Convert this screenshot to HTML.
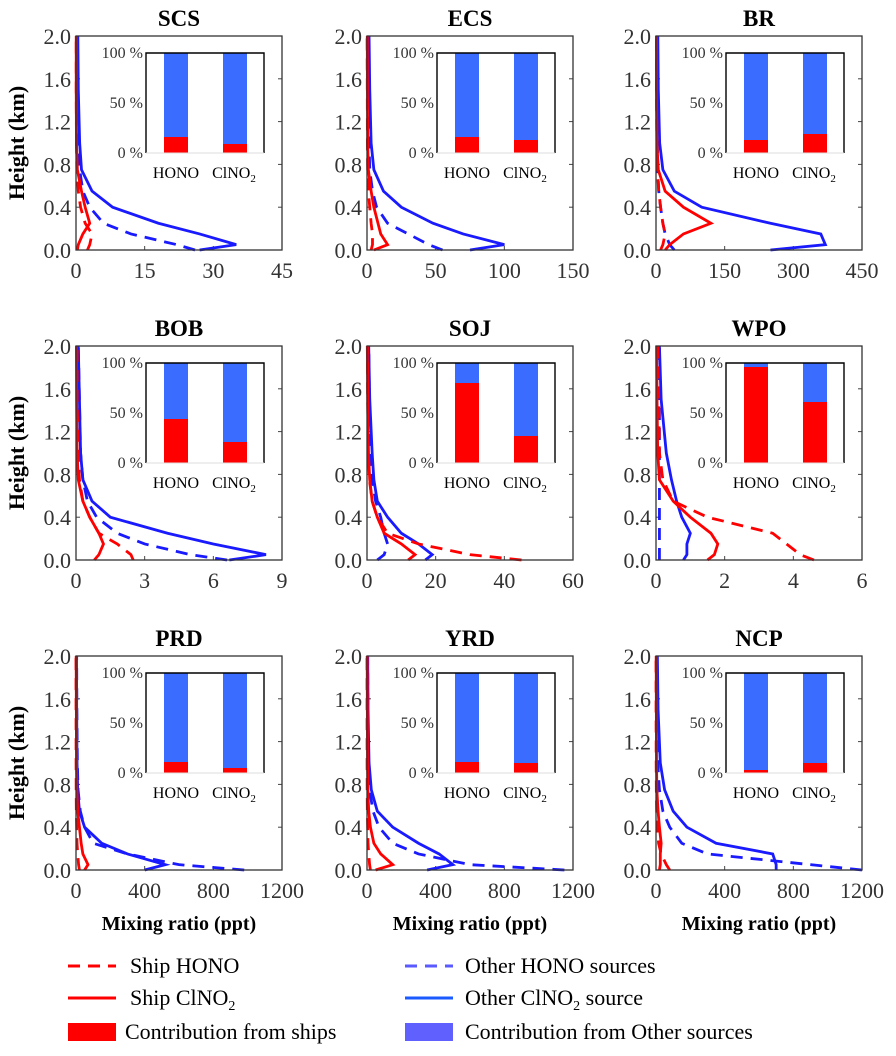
<!DOCTYPE html>
<html><head><meta charset="utf-8">
<style>
html,body{margin:0;padding:0;background:#fff;}
svg, svg text{font-family:"Liberation Serif","Times New Roman","DejaVu Serif",serif;}
svg{display:block;}
</style></head>
<body>
<svg id="fig" width="896" height="1056" viewBox="0 0 896 1056" font-family="Liberation Serif, Times New Roman, DejaVu Serif, serif"></svg>
<script>
const regions = ["SCS","ECS","BR","BOB","SOJ","WPO","PRD","YRD","NCP"];
const xMaxes = [45,150,450,9,60,6,1200,1200,1200];
const xTickLabels = [[0,15,30,45],[0,50,100,150],[0,150,300,450],[0,3,6,9],[0,20,40,60],[0,2,4,6],[0,400,800,1200],[0,400,800,1200],[0,400,800,1200]];
const yTickLabels = ["0.0","0.4","0.8","1.2","1.6","2.0"];
const heights = [0,0.05,0.15,0.25,0.4,0.55,0.75,1.0,1.5,2.0];
const otherClNO2 = [
 [27,35,27,18,8,3.5,1.2,0.8,0.5,0.4],
 [75,100,70,48,25,12,5,3,2,1.5],
 [250,370,360,250,100,40,15,8,5,4],
 [6.7,8.3,6,4,1.5,0.7,0.3,0.2,0.15,0.1],
 [17,19,15,10,6,3,2,1.5,0.8,0.5],
 [0.8,0.9,0.9,1.0,0.75,0.6,0.45,0.3,0.15,0.1],
 [400,520,300,150,50,20,10,6,4,3],
 [350,500,420,300,150,60,25,12,6,4],
 [700,700,680,350,180,100,50,25,12,8]];
const otherHONO = [
 [26,22,12,6,3,1.5,0.8,0.5,0.3,0.3],
 [55,45,30,15,7,4,2,1.5,1,1],
 [40,30,20,15,10,6,4,3,2,2],
 [6.6,5,3,1.8,0.9,0.5,0.3,0.2,0.15,0.1],
 [3,5,6,5,4,2.5,1.5,1,0.7,0.5],
 [0.1,0.1,0.1,0.1,0.1,0.1,0.1,0.1,0.1,0.1],
 [980,600,300,100,50,25,12,8,5,4],
 [1150,600,300,150,70,35,15,8,5,4],
 [1200,900,300,150,80,40,20,10,6,4]];
const shipClNO2 = [
 [0.3,0.5,1.5,3,2,1.2,0.3,0.1,0.05,0.05],
 [5,15,10,8,5,3,1,0.5,0.3,0.2],
 [20,30,60,120,60,20,5,2,1,1],
 [0.8,1,1.2,1.0,0.6,0.3,0.1,0.05,0.03,0.02],
 [12,14,10,5,3,1.5,0.8,0.4,0.2,0.1],
 [1.5,1.7,1.8,1.6,1.0,0.5,0.1,0.05,0.03,0.02],
 [50,70,40,30,20,10,5,3,2,1],
 [50,150,80,40,20,10,5,3,2,1],
 [20,25,25,30,20,12,5,3,2,1]];
const shipHONO = [
 [2.5,3,3.5,2,1,0.5,0.2,0.1,0.05,0.05],
 [3,4,4,3,2,1,0.5,0.3,0.2,0.1],
 [10,15,20,15,10,6,3,2,1,1],
 [2.5,2.4,1.8,1,0.6,0.3,0.15,0.1,0.05,0.05],
 [45,30,15,6,3,1.5,0.7,0.4,0.2,0.1],
 [4.6,4.2,3.8,3.4,1.5,0.5,0.2,0.1,0.08,0.05],
 [20,15,10,6,4,2,1,0.5,0.3,0.2],
 [20,15,10,6,4,2,1,0.5,0.3,0.2],
 [80,60,30,15,8,4,2,1,0.5,0.3]];
const shipPctHONO = [16,16,13,44,80,96,11,11,3];
const shipPctClNO2 = [9,13,19,21,27,61,5,10,10];

const NS="http://www.w3.org/2000/svg";
const svg=document.getElementById('fig');
function mk(tag,attrs,parent){const e=document.createElementNS(NS,tag);for(const k in attrs)e.setAttribute(k,attrs[k]);(parent||svg).appendChild(e);return e;}
const colX=[76,367,656], rowY=[36,346,656], PW=206, PH=214;
const RED="#ff0000", BLUE="#1a1aff", IBLUE="#3a6dff";

regions.forEach((name,i)=>{
  const x0=colX[i%3], y0=rowY[Math.floor(i/3)];
  const g=mk('g',{});
  
  
  const xs=v=>x0+v/xMaxes[i]*PW;
  const ys=h=>y0+PH-h/2*PH;
  const t=mk('text',{x:x0+PW/2,y:y0-10,'text-anchor':'middle','font-size':23,'font-weight':'bold'},g);
  t.textContent=name;
  
  
  yTickLabels.forEach(l=>{
    const yy=ys(parseFloat(l));
    const tt=mk('text',{x:x0-5,y:yy+8,'text-anchor':'end','font-size':22,fill:'#333'},g);
    tt.textContent=l;
    
    
    mk('line',{x1:x0,x2:x0+4,y1:yy,y2:yy,stroke:'#444'},g);
    mk('line',{x1:x0+PW,x2:x0+PW-4,y1:yy,y2:yy,stroke:'#444'},g);
  });
  xTickLabels[i].forEach(v=>{
    const xx=xs(v);
    const tt=mk('text',{x:xx,y:y0+PH+28,'text-anchor':'middle','font-size':22,fill:'#333'},g);
    tt.textContent=v;
    
    
    mk('line',{x1:xx,x2:xx,y1:y0+PH,y2:y0+PH-4,stroke:'#444'},g);
  });
  if(i%3===0){
    const yl=mk('text',{x:0,y:0,transform:`translate(${x0-52},${y0+PH/2}) rotate(-90)`,'text-anchor':'middle','font-size':22,'font-weight':'bold'},g);
    yl.textContent='Height (km)';
    
    
  }
  if(i>=6){
    const xl=mk('text',{x:x0+PW/2,y:y0+PH+60,'text-anchor':'middle','font-size':20,'font-weight':'bold'},g);
    xl.textContent='Mixing ratio (ppt)';
    
    
  }
  const series=[[otherHONO,BLUE,true,'other-hono-line'],[otherClNO2,BLUE,false,'other-clno2-line'],[shipHONO,RED,true,'ship-hono-line'],[shipClNO2,RED,false,'ship-clno2-line']];
  series.forEach(([arr,c,dash,nm])=>{
    const pts=arr[i].map((v,k)=>xs(Math.min(v,xMaxes[i]))+','+ys(heights[k])).join(' ');
    const p=mk('polyline',{points:pts,fill:'none',stroke:c,'stroke-width':2.8,'stroke-dasharray':dash?'12,8':'none'},g);
    
    
  });
  mk('rect',{x:x0,y:y0,width:PW,height:PH,fill:'none',stroke:'#333','stroke-width':1.3},g);
  const ix=x0+70, iy=y0+17, iw=118, ih=100;
  const ig=mk('g',{},g);
  
  
  mk('rect',{x:ix,y:iy,width:iw,height:ih+40,fill:'#fff'},ig);
  const iys=p=>iy+ih-p/100*ih;
  [[shipPctHONO[i],ix+18,'bar-hono'],[shipPctClNO2[i],ix+77,'bar-clno2']].forEach(([p,bx,nm])=>{
    const b1=mk('rect',{x:bx,y:iy,width:24,height:ih,fill:IBLUE},ig);
    
    
    const b2=mk('rect',{x:bx,y:iys(p),width:24,height:p/100*ih,fill:RED},ig);
    
    
  });
  mk('polyline',{points:`${ix},${iy+ih} ${ix},${iy} ${ix+iw},${iy} ${ix+iw},${iy+ih}`,fill:'none',stroke:'#000','stroke-width':1.4},ig);
  mk('line',{x1:ix,x2:ix+iw,y1:iy+ih,y2:iy+ih,stroke:'#ddd'},ig);
  [[0,'0 %'],[50,'50 %'],[100,'100 %']].forEach(([p,l])=>{
    const tt=mk('text',{x:ix-3,y:iys(p)+5,'text-anchor':'end','font-size':16,fill:'#333'},ig);
    tt.textContent=l;
    
    
  });
  const l1=mk('text',{x:ix+30,y:iy+ih+25,'text-anchor':'middle','font-size':16},ig);
  l1.textContent='HONO';
  
  
  const l2=mk('text',{x:ix+88,y:iy+ih+25,'text-anchor':'middle','font-size':16},ig);
  l2.innerHTML='ClNO<tspan font-size="11" dy="4">2</tspan>';
  
  
});

const lg=mk('g',{});


const entries=[
 [68,966,'line',RED,true,'Ship HONO',130,'legend-ship-hono'],
 [68,998,'line',RED,false,'Ship ClNO<tspan font-size="14" dy="5">2</tspan>',130,'legend-ship-clno2'],
 [68,1032,'rect',RED,false,'Contribution  from  ships',125,'legend-ship-contribution'],
 [405,966,'line','#5a5aff',true,'Other HONO sources',465,'legend-other-hono'],
 [405,998,'line','#1a5aff',false,'Other ClNO<tspan font-size="14" dy="5">2</tspan><tspan dy="-5"> source</tspan>',465,'legend-other-clno2'],
 [405,1032,'rect','#6060ff',false,'Contribution  from  Other  sources',465,'legend-other-contribution']];
entries.forEach(([x,y,type,c,dash,txt,tx,nm])=>{
  const eg=mk('g',{},lg);
  
  
  if(type==='line') mk('line',{x1:x,x2:x+48,y1:y,y2:y,stroke:c,'stroke-width':3,'stroke-dasharray':dash?'12,8':'none'},eg);
  else mk('rect',{x:x,y:y-9,width:48,height:18,fill:c},eg);
  const t=mk('text',{x:tx,y:y+7,'font-size':22},eg);
  t.innerHTML=txt;
});
</script>
</body></html>
